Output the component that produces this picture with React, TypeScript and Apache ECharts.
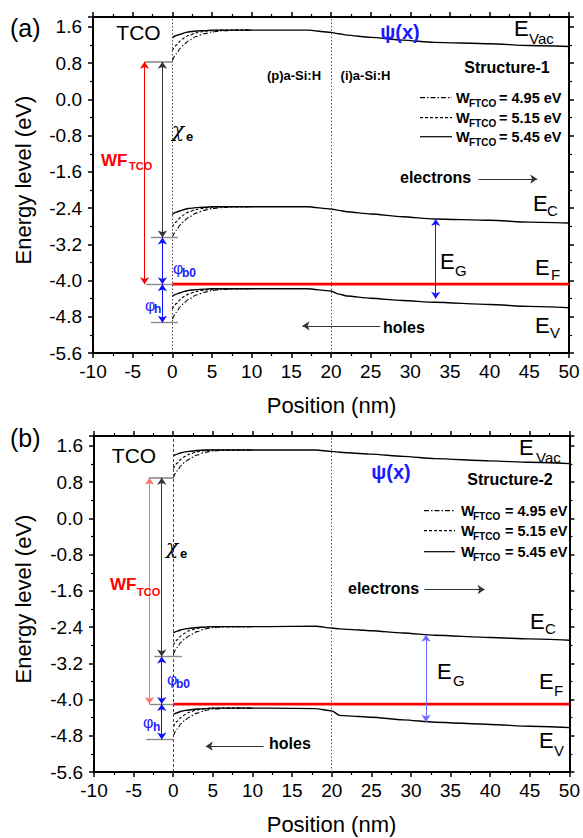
import React, { useEffect, useRef } from "react";
import * as echarts from "echarts";

const FONT = '"Liberation Sans", Arial, Helvetica, sans-serif';
const GREEK = '"DejaVu Serif", "Liberation Serif", serif';

// axes
const X_MIN = -10;
const X_MAX = 50;
const X_STEP = 5;
const Y_MIN = -5.6;
const Y_MAX = 1.82;
const Y_STEP = 0.8;

// ---------- Panel (a): Structure-1 ----------
const A_X = [0, 0.5, 1, 1.5, 2, 3, 4, 5, 8, 12, 17, 20, 21, 22, 25, 29, 33, 40, 45, 50];
const A_EVAC_545 = [1.36, 1.41, 1.44, 1.47, 1.49, 1.51, 1.52, 1.53, 1.53, 1.53, 1.53, 1.48, 1.45, 1.42, 1.37, 1.31, 1.26, 1.23, 1.19, 1.17];
const A_EC_545 = [-2.54, -2.49, -2.46, -2.43, -2.41, -2.39, -2.38, -2.37, -2.37, -2.37, -2.37, -2.42, -2.45, -2.48, -2.53, -2.59, -2.64, -2.67, -2.71, -2.73];
const A_EV_545 = [-4.35, -4.3, -4.27, -4.24, -4.22, -4.2, -4.19, -4.18, -4.18, -4.18, -4.18, -4.23, -4.3, -4.34, -4.39, -4.44, -4.48, -4.53, -4.57, -4.6];

const A_XE = [0, 0.5, 1, 1.5, 2, 3, 4, 5, 6, 7, 8, 10];
const A_EVAC_515 = [1.08, 1.2, 1.29, 1.36, 1.41, 1.47, 1.5, 1.52, 1.53, 1.53, 1.53, 1.53];
const A_EVAC_495 = [0.86, 1.01, 1.13, 1.22, 1.29, 1.39, 1.45, 1.49, 1.51, 1.52, 1.53, 1.53];
const A_EC_515 = [-2.82, -2.7, -2.61, -2.54, -2.49, -2.43, -2.4, -2.38, -2.37, -2.37, -2.37, -2.37];
const A_EC_495 = [-3.04, -2.89, -2.77, -2.68, -2.61, -2.51, -2.45, -2.41, -2.39, -2.38, -2.37, -2.37];
const A_EV_515 = [-4.63, -4.51, -4.42, -4.35, -4.3, -4.24, -4.21, -4.19, -4.18, -4.18, -4.18, -4.18];
const A_EV_495 = [-4.85, -4.7, -4.58, -4.49, -4.42, -4.32, -4.26, -4.22, -4.2, -4.19, -4.18, -4.18];

const A_EF = -4.08;
const A_TCO_LEVEL = 0.83;
const A_EC0 = -3.05;
const A_EV0 = -4.93;
const A_WF_X = -3.5;
const A_CHI_X = -1.25;
const A_EG = [33.2, -2.64, -4.4]; // x, top, bottom
const A_ELECTRONS = [38.6, 46, -1.76]; // x1, x2, y
const A_HOLES = [26.2, 16.4, -5.0];

// ---------- Panel (b): Structure-2 ----------
const B_X = [0, 0.5, 1, 1.5, 2, 3, 4, 5, 8, 12, 18, 20, 21, 22, 25, 29, 33, 40, 45, 50];
const B_EVAC_545 = [1.38, 1.42, 1.45, 1.47, 1.48, 1.5, 1.51, 1.51, 1.51, 1.51, 1.51, 1.48, 1.46, 1.45, 1.42, 1.37, 1.32, 1.27, 1.24, 1.21];
const B_EC_545 = [-2.53, -2.49, -2.46, -2.44, -2.43, -2.41, -2.4, -2.39, -2.39, -2.39, -2.38, -2.42, -2.44, -2.45, -2.48, -2.53, -2.58, -2.63, -2.66, -2.69];
const B_EV_545 = [-4.33, -4.29, -4.26, -4.24, -4.23, -4.21, -4.2, -4.19, -4.19, -4.19, -4.2, -4.25, -4.35, -4.36, -4.39, -4.45, -4.5, -4.55, -4.59, -4.62];

const B_XE = [0, 0.5, 1, 1.5, 2, 3, 4, 5, 6, 7, 8, 10];
const B_EVAC_515 = [1.1, 1.22, 1.31, 1.37, 1.42, 1.47, 1.5, 1.51, 1.51, 1.51, 1.51, 1.51];
const B_EVAC_495 = [0.9, 1.05, 1.17, 1.25, 1.31, 1.4, 1.46, 1.49, 1.5, 1.51, 1.51, 1.51];
const B_EC_515 = [-2.8, -2.68, -2.59, -2.53, -2.48, -2.43, -2.4, -2.39, -2.39, -2.39, -2.39, -2.39];
const B_EC_495 = [-3.0, -2.85, -2.73, -2.65, -2.59, -2.5, -2.44, -2.41, -2.4, -2.39, -2.39, -2.39];
const B_EV_515 = [-4.6, -4.48, -4.39, -4.33, -4.28, -4.23, -4.2, -4.19, -4.19, -4.19, -4.19, -4.19];
const B_EV_495 = [-4.8, -4.65, -4.53, -4.45, -4.39, -4.3, -4.24, -4.21, -4.2, -4.19, -4.19, -4.19];

const B_EF = -4.1;
const B_TCO_LEVEL = 0.9;
const B_EC0 = -3.05;
const B_EV0 = -4.88;
const B_WF_X = -3.0;
const B_CHI_X = -1.45;
const B_EG = [31.9, -2.57, -4.49];
const B_ELECTRONS = [31.7, 39.3, -1.57];
const B_HOLES = [11.4, 4.1, -5.03];

const LEGEND_LABELS = ["= 4.95 eV", "= 5.15 eV", "= 5.45 eV"];
const X_LABEL = "Position (nm)";
const Y_LABEL = "Energy level (eV)";

const DASH_495 = [5, 2, 1.5, 2];
const DASH_515 = [3, 2];

function pairs(xs: number[], ys: number[]) {
  return xs.map((x, i) => [x, ys[i]]);
}

function curve(ax: number, xs: number[], ys: number[], type: any, width: number) {
  return {
    type: "line",
    xAxisIndex: ax,
    yAxisIndex: ax,
    data: pairs(xs, ys),
    symbol: "none",
    smooth: 0.25,
    smoothMonotone: "x",
    silent: true,
    lineStyle: { color: "#000", width, type },
    z: 3,
  };
}

function seg(x1: number, y1: number, x2: number, y2: number, color: string, width: number, s1: string, s2: string) {
  return [
    { coord: [x1, y1], symbol: s1, symbolSize: 7, lineStyle: { color, width, type: "solid" }, itemStyle: { color } },
    { coord: [x2, y2], symbol: s2, symbolSize: 7, itemStyle: { color } },
  ];
}

function xAxes(grid: number) {
  const base = {
    gridIndex: grid,
    type: "value",
    min: X_MIN,
    max: X_MAX,
    interval: X_STEP,
    splitLine: { show: false },
    axisLine: { show: true, onZero: false, lineStyle: { color: "#000", width: 2 } },
    axisTick: { show: true, inside: false, length: 5, lineStyle: { color: "#000", width: 1.5 } },
    minorTick: { show: true, splitNumber: 2, length: 3, lineStyle: { color: "#000", width: 1.2 } },
  };
  return [
    { ...base, position: "bottom", axisLabel: { show: true, fontSize: 19, color: "#000", fontFamily: FONT, margin: 9 } },
    { ...base, position: "top", axisLabel: { show: false } },
  ];
}

function yAxes(grid: number) {
  const base = {
    gridIndex: grid,
    type: "value",
    min: Y_MIN,
    max: Y_MAX,
    interval: Y_STEP,
    splitLine: { show: false },
    axisLine: { show: true, onZero: false, lineStyle: { color: "#000", width: 2 } },
    axisTick: { show: true, inside: false, length: 5, lineStyle: { color: "#000", width: 1.5 } },
    minorTick: { show: true, splitNumber: 2, length: 3, lineStyle: { color: "#000", width: 1.2 } },
  };
  return [
    {
      ...base,
      position: "left",
      axisLabel: {
        show: true,
        fontSize: 19,
        color: "#000",
        fontFamily: FONT,
        margin: 11,
        formatter: (v: number) => {
          const k = v / Y_STEP;
          return Math.abs(k - Math.round(k)) < 1e-6 ? v.toFixed(1) : "";
        },
      },
    },
    { ...base, position: "right", axisLabel: { show: false } },
  ];
}

function panelSeries(p: any) {
  const ax = p.axis;
  const series: any[] = [];
  series.push({
    type: "line",
    xAxisIndex: ax,
    yAxisIndex: ax,
    data: [],
    symbol: "none",
    silent: true,
    markLine: {
      silent: true,
      symbol: "none",
      label: { show: false },
      animation: false,
      lineStyle: { color: "#444", width: 1, type: p.zeroDash },
      data: [{ xAxis: 0 }],
    },
  });
  series.push({
    type: "line",
    xAxisIndex: ax,
    yAxisIndex: ax,
    data: [],
    symbol: "none",
    silent: true,
    markLine: {
      silent: true,
      symbol: "none",
      label: { show: false },
      animation: false,
      lineStyle: { color: "#555", width: 1, type: [1.5, 2] },
      data: [{ xAxis: 20 }],
    },
  });
  series.push(curve(ax, p.x, p.evac545, "solid", 1.4));
  series.push(curve(ax, p.x, p.ec545, "solid", 1.4));
  series.push(curve(ax, p.x, p.ev545, "solid", 1.4));
  series.push(curve(ax, p.xe, p.evac515, DASH_515, 1.1));
  series.push(curve(ax, p.xe, p.ec515, DASH_515, 1.1));
  series.push(curve(ax, p.xe, p.ev515, DASH_515, 1.1));
  series.push(curve(ax, p.xe, p.evac495, DASH_495, 1.1));
  series.push(curve(ax, p.xe, p.ec495, DASH_495, 1.1));
  series.push(curve(ax, p.xe, p.ev495, DASH_495, 1.1));

  const gray = "#8a8a8a";
  const blue = "#1010ff";
  series.push({
    type: "line",
    xAxisIndex: ax,
    yAxisIndex: ax,
    data: [[0, p.ef], [X_MAX, p.ef]],
    symbol: "none",
    silent: true,
    z: 4,
    lineStyle: { color: "#ff0000", width: 2.6 },
    markLine: {
      silent: true,
      symbol: "none",
      label: { show: false },
      animation: false,
      data: [
        seg(p.tcoX0, p.tco, 0, p.tco, gray, 1.6, "none", "none"),
        seg(p.ec0X[0], p.ec0, p.ec0X[1], p.ec0, gray, 1.4, "none", "none"),
        seg(p.efX0, p.ef, 0, p.ef, gray, 1.4, "none", "none"),
        seg(p.ev0X[0], p.ev0, p.ev0X[1], p.ev0, gray, 1.4, "none", "none"),
        seg(p.wfX, p.tco, p.wfX, p.ef, p.wfColor, 1, "arrow", "arrow"),
        seg(p.chiX, p.tco, p.chiX, p.ec0, "#333", 1, "arrow", "arrow"),
        seg(p.chiX, p.ec0, p.chiX, p.ef, blue, 1, "arrow", "arrow"),
        seg(p.chiX, p.ef, p.chiX, p.ev0, blue, 1, "arrow", "arrow"),
        seg(p.eg[0], p.eg[1], p.eg[0], p.eg[2], p.egColor, 1, "arrow", "arrow"),
        seg(p.electrons[0], p.electrons[2], p.electrons[1], p.electrons[2], "#333", 1, "none", "arrow"),
        seg(p.holes[0], p.holes[2], p.holes[1], p.holes[2], "#333", 1, "none", "arrow"),
      ],
    },
  });
  return series;
}

type TO = { w?: string; c?: string; a?: string; r?: number; f?: string; s?: string };
function t(text: string, x: number, y: number, fs: number, o: TO = {}) {
  return {
    type: "text",
    x,
    y,
    rotation: o.r || 0,
    silent: true,
    z: 100,
    style: {
      text,
      fontSize: fs,
      fontFamily: o.f || FONT,
      fontWeight: o.w || "normal",
      fontStyle: o.s || "normal",
      fill: o.c || "#000",
      align: o.a || "left",
      verticalAlign: "middle",
    },
  };
}

function legendRows(ys: number[], lx: number[], wx: number, sx: number, ex: number) {
  const out: any[] = [];
  const dashes: any[] = [DASH_495, DASH_515, "solid"];
  ys.forEach((y, i) => {
    out.push({
      type: "line",
      silent: true,
      z: 100,
      shape: { x1: lx[0], y1: y, x2: lx[1], y2: y },
      style: { stroke: "#000", lineWidth: 1.2, lineDash: dashes[i] === "solid" ? null : dashes[i] },
    });
    out.push(t("W", wx, y, 14.5, { w: "bold" }));
    out.push(t("FTCO", sx, y + 5.5, 10, { w: "bold" }));
    out.push(t(LEGEND_LABELS[i], ex, y, 14.5, { w: "bold" }));
  });
  return out;
}

export default function App() {
  const ref = useRef<HTMLDivElement>(null);
  useEffect(() => {
    document.body.style.margin = "0";
    if (!ref.current) return;
    const chart = echarts.init(ref.current, null, { renderer: "svg" });
    const red = "#ff0000";
    const blue = "#1a1aff";

    const pa = {
      axis: 0,
      x: A_X, evac545: A_EVAC_545, ec545: A_EC_545, ev545: A_EV_545,
      xe: A_XE, evac515: A_EVAC_515, ec515: A_EC_515, ev515: A_EV_515,
      evac495: A_EVAC_495, ec495: A_EC_495, ev495: A_EV_495,
      ef: A_EF, tco: A_TCO_LEVEL, ec0: A_EC0, ev0: A_EV0,
      tcoX0: A_WF_X, ec0X: [-2.7, 0.7], efX0: -3.3, ev0X: [-2.7, 0.7],
      wfX: A_WF_X, chiX: A_CHI_X, eg: A_EG, electrons: A_ELECTRONS, holes: A_HOLES,
      wfColor: "#ff0000", egColor: "#1a1aff", zeroDash: [1.5, 2],
    };
    const pb = {
      axis: 2,
      x: B_X, evac545: B_EVAC_545, ec545: B_EC_545, ev545: B_EV_545,
      xe: B_XE, evac515: B_EVAC_515, ec515: B_EC_515, ev515: B_EV_515,
      evac495: B_EVAC_495, ec495: B_EC_495, ev495: B_EV_495,
      ef: B_EF, tco: B_TCO_LEVEL, ec0: B_EC0, ev0: B_EV0,
      tcoX0: -3.1, ec0X: [-2.4, 1.1], efX0: -3.0, ev0X: [-3.4, 0],
      wfX: B_WF_X, chiX: B_CHI_X, eg: B_EG, electrons: B_ELECTRONS, holes: B_HOLES,
      wfColor: "#ff7070", egColor: "#6b6bff", zeroDash: [3, 2],
    };

    const graphic: any[] = [
      // panel (a)
      t("(a)", 10, 28, 25),
      t("TCO", 138.5, 32.5, 21, { a: "center" }),
      t("χ", 172, 130, 20, { f: GREEK, s: "italic" }),
      t("e", 186, 136, 13, { w: "bold" }),
      t("WF", 101, 160, 17, { w: "bold", c: red }),
      t("TCO", 129, 166, 11, { w: "bold", c: red }),
      t("φ", 173, 268, 16, { c: blue }),
      t("b0", 182, 273, 12, { w: "bold", c: blue }),
      t("φ", 145, 305, 16, { c: blue }),
      t("h", 154, 309, 12, { w: "bold", c: blue }),
      t("(p)a-Si:H", 294, 75, 13, { w: "bold", a: "center" }),
      t("(i)a-Si:H", 365.5, 75, 13, { w: "bold", a: "center" }),
      t("ψ(x)", 400, 31.5, 20, { w: "bold", c: blue, a: "center" }),
      t("E", 514, 28, 22),
      t("Vac", 529, 38, 15),
      t("Structure-1", 507, 67.5, 16, { w: "bold", a: "center" }),
      ...legendRows([97.7, 117.7, 136.7], [420, 452], 456, 469, 499),
      t("electrons", 400, 177, 16, { w: "bold" }),
      t("E", 533, 203.5, 22),
      t("C", 547, 210.5, 15),
      t("E", 535, 267, 22),
      t("F", 551, 274, 15),
      t("E", 535, 325, 22),
      t("V", 550, 332, 15),
      t("E", 440, 261, 22),
      t("G", 455, 270, 15),
      t("holes", 383, 327, 16, { w: "bold" }),
      t(X_LABEL, 331.5, 405, 22, { a: "center" }),
      t(Y_LABEL, 23, 180, 22, { a: "center", r: Math.PI / 2 }),
      // panel (b)
      t("(b)", 10, 438, 25),
      t("TCO", 134, 455, 21, { a: "center" }),
      t("χ", 166, 547, 20, { f: GREEK, s: "italic" }),
      t("e", 180, 553, 13, { w: "bold" }),
      t("WF", 110, 584, 17, { w: "bold", c: red }),
      t("TCO", 137, 592, 11, { w: "bold", c: red }),
      t("φ", 167, 679, 16, { c: blue }),
      t("b0", 176, 684, 12, { w: "bold", c: blue }),
      t("φ", 143, 722, 16, { c: blue }),
      t("h", 153, 727, 12, { w: "bold", c: blue }),
      t("ψ(x)", 391, 472, 20, { w: "bold", c: blue, a: "center" }),
      t("E", 519, 447, 22),
      t("Vac", 536, 457, 15),
      t("Structure-2", 510, 479, 16, { w: "bold", a: "center" }),
      ...legendRows([510.7, 530.7, 551.7], [424, 455], 461, 473, 505),
      t("electrons", 348, 588, 16, { w: "bold" }),
      t("E", 530, 621, 22),
      t("C", 545, 628, 15),
      t("E", 539, 681, 22),
      t("F", 554, 690, 15),
      t("E", 539, 740, 22),
      t("V", 554, 750, 15),
      t("E", 437, 671, 22),
      t("G", 453, 680, 15),
      t("holes", 269, 743, 16, { w: "bold" }),
      t(X_LABEL, 331.5, 824, 22, { a: "center" }),
      t(Y_LABEL, 23, 599, 22, { a: "center", r: Math.PI / 2 }),
    ];

    chart.setOption({
      animation: false,
      backgroundColor: "#fff",
      textStyle: { fontFamily: FONT },
      grid: [
        { left: 93, top: 17, width: 476, height: 336, containLabel: false },
        { left: 94, top: 436, width: 478, height: 336, containLabel: false },
      ],
      xAxis: [...xAxes(0), ...xAxes(1)],
      yAxis: [...yAxes(0), ...yAxes(1)],
      series: [...panelSeries(pa), ...panelSeries(pb)],
      graphic,
    });
    return () => chart.dispose();
  }, []);
  return <div ref={ref} style={{ width: 583, height: 838 }} />;
}
